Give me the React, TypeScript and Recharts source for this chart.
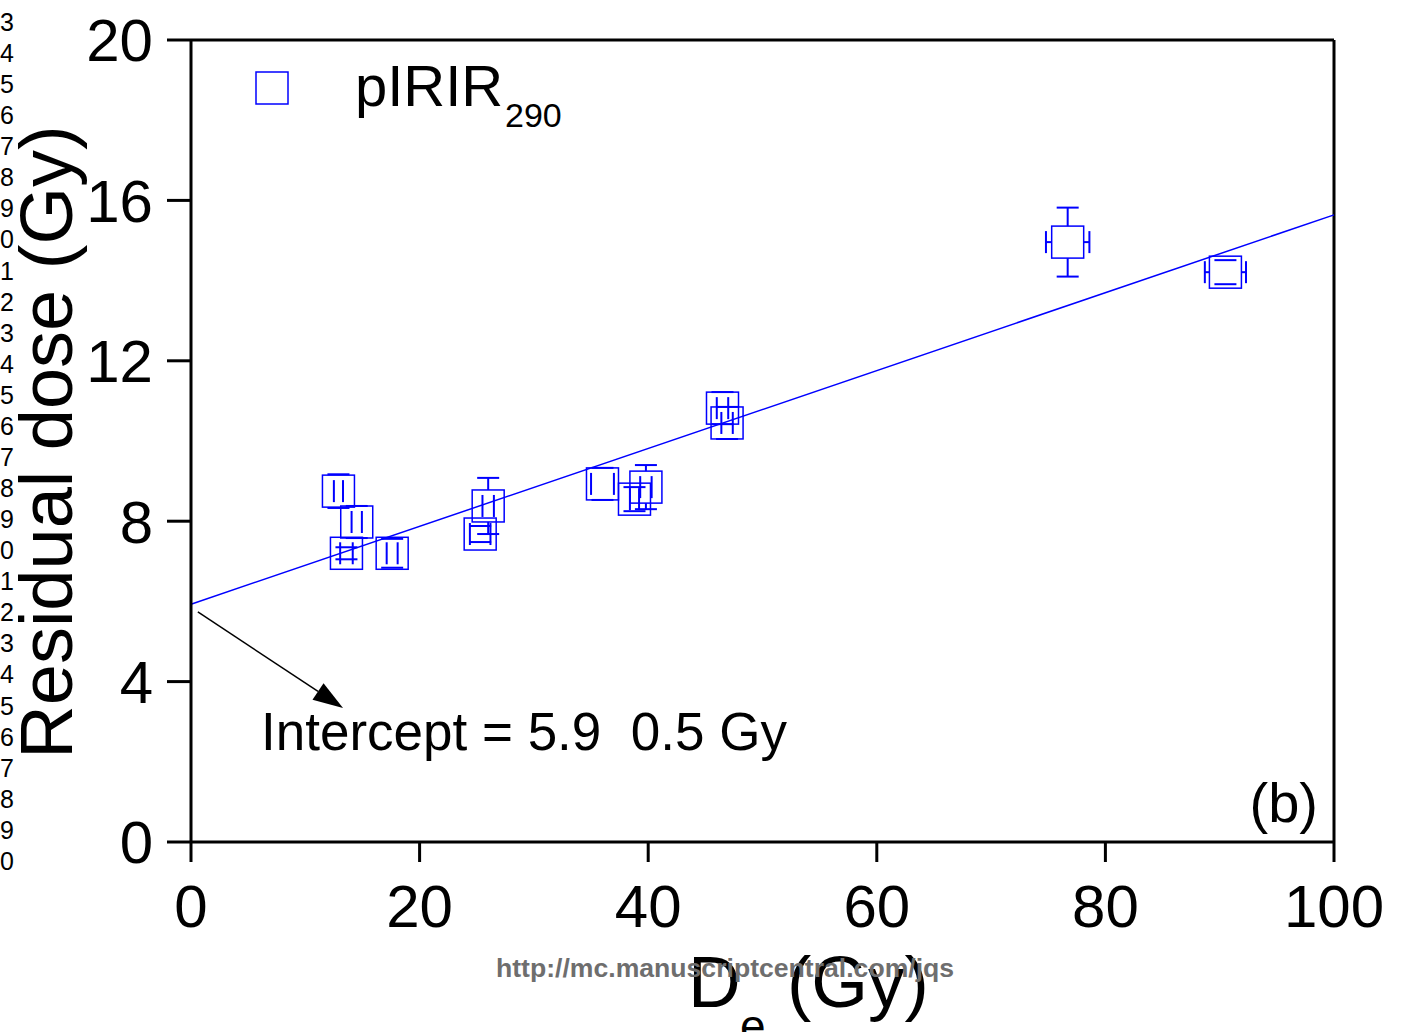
import { ScatterChart, Scatter, XAxis, YAxis, ReferenceLine } from 'recharts'

// equivalent dose De (Gy) and residual dose (Gy) for each sample
const deValues = [12.9, 14.5, 13.6, 17.6, 26.0, 25.3, 36.0, 38.8, 39.8, 46.5, 46.9, 76.7, 90.5]
const residualValues = [8.75, 7.98, 7.2, 7.2, 8.38, 7.68, 8.93, 8.55, 8.85, 10.82, 10.45, 14.96, 14.21]
const deErrors = [0.4, 0.45, 0.55, 0.48, 0.5, 0.9, 1.0, 0.4, 0.5, 0.5, 0.5, 1.9, 1.8]
const residualErrors = [0.42, 0.4, 0.15, 0.36, 0.7, 0.2, 0.4, 0.3, 0.55, 0.4, 0.4, 0.86, 0.3]

// linear fit end points
const fitX = [0, 100]
const fitY = [5.93, 15.64]

const xTicks = [0, 20, 40, 60, 80, 100]
const yTicks = [0, 4, 8, 12, 16, 20]

// manuscript line numbers down the left margin
const lineNumbers = ['3', '4', '5', '6', '7', '8', '9', '0', '1', '2', '3', '4', '5', '6', '7', '8', '9', '0', '1', '2', '3', '4', '5', '6', '7', '8', '9', '0']

const points = deValues.map((x, i) => ({ x, y: residualValues[i] }))

// each error bar split in four halves, drawn from the marker edge outwards (like Origin does)
const errorHalves = deValues.flatMap((x, i) => {
  const y = residualValues[i]
  const dx = deErrors[i]
  const dy = residualErrors[i]
  return [
    { key: `u${i}`, from: { x, y }, to: { x, y: y + dy } },
    { key: `d${i}`, from: { x, y }, to: { x, y: y - dy } },
    { key: `l${i}`, from: { x, y }, to: { x: x - dx, y } },
    { key: `r${i}`, from: { x, y }, to: { x: x + dx, y } },
  ]
})

const BLUE = '#0000ff'
const FONT = '"Liberation Sans", Arial, sans-serif'
const HALF_BOX = 16
const HALF_CAP = 11

const SquareMarker = (props: any) => {
  const { cx, cy } = props
  return <rect x={cx - HALF_BOX} y={cy - HALF_BOX} width={HALF_BOX * 2} height={HALF_BOX * 2} fill="none" stroke={BLUE} strokeWidth={1.5} />
}

const ErrorHalf = (props: any) => {
  const { x1, y1, x2, y2 } = props
  const dx = x2 - x1
  const dy = y2 - y1
  const len = Math.sqrt(dx * dx + dy * dy)
  if (!len) return <g />
  const ux = dx / len
  const uy = dy / len
  const px = -uy * HALF_CAP
  const py = ux * HALF_CAP
  return (
    <g stroke={BLUE} strokeWidth={2}>
      {len > HALF_BOX && <line x1={x1 + ux * HALF_BOX} y1={y1 + uy * HALF_BOX} x2={x2} y2={y2} />}
      <line x1={x2 + px} y1={y2 + py} x2={x2 - px} y2={y2 - py} />
    </g>
  )
}

const Arrow = (props: any) => {
  const { x1, y1, x2, y2 } = props
  const dx = x2 - x1
  const dy = y2 - y1
  const len = Math.sqrt(dx * dx + dy * dy)
  const ux = dx / len
  const uy = dy / len
  const bx = x2 - ux * 30
  const by = y2 - uy * 30
  const px = -uy * 10
  const py = ux * 10
  return (
    <g>
      <line x1={x1} y1={y1} x2={bx} y2={by} stroke="#000" strokeWidth={1.5} />
      <polygon points={`${x2},${y2} ${bx + px},${by + py} ${bx - px},${by - py}`} fill="#000" />
    </g>
  )
}

export default function App() {
  return (
    <div style={{ position: 'absolute', left: 0, top: 0, width: 1404, height: 1032, fontFamily: FONT, background: '#fff' }}>
      <ScatterChart width={1404} height={1032} margin={{ top: 40, right: 70, left: 0, bottom: 0 }}>
        <XAxis
          type="number"
          dataKey="x"
          domain={[0, 100]}
          ticks={xTicks}
          height={190}
          tickSize={20}
          tickMargin={22}
          axisLine={{ stroke: '#000', strokeWidth: 3 }}
          tickLine={{ stroke: '#000', strokeWidth: 3 }}
          tick={{ fontSize: 60, fill: '#000', fontFamily: FONT }}
        />
        <YAxis
          type="number"
          dataKey="y"
          domain={[0, 20]}
          ticks={yTicks}
          width={191}
          tickSize={24}
          tickMargin={14}
          axisLine={{ stroke: '#000', strokeWidth: 3 }}
          tickLine={{ stroke: '#000', strokeWidth: 3 }}
          tick={{ fontSize: 60, fill: '#000', fontFamily: FONT }}
        />
        <ReferenceLine y={20} stroke="#000" strokeWidth={3} />
        <ReferenceLine x={100} stroke="#000" strokeWidth={3} />
        <ReferenceLine
          segment={[{ x: fitX[0], y: fitY[0] }, { x: fitX[1], y: fitY[1] }]}
          stroke={BLUE}
          strokeWidth={1.5}
        />
        <ReferenceLine
          segment={[{ x: 0.6, y: 5.74 }, { x: 13.3, y: 3.34 }]}
          shape={Arrow}
        />
        {errorHalves.map(h => (
          <ReferenceLine key={h.key} segment={[h.from, h.to]} shape={ErrorHalf} />
        ))}
        <Scatter data={points} shape={SquareMarker} isAnimationActive={false} />
      </ScatterChart>
      <svg
        width={1404}
        height={1032}
        style={{ position: 'absolute', left: 0, top: 0, pointerEvents: 'none', fontFamily: FONT }}
      >
        {lineNumbers.map((n, i) => (
          <text key={i} x={0} y={31 + i * 31.07} fontSize={25} fill="#000">{n}</text>
        ))}
        <text x={72} y={442} fontSize={74} textAnchor="middle" transform="rotate(-90 72 442)" fill="#000">
          Residual dose (Gy)
        </text>
        <text y={1007} fontSize={73} fill="#000">
          <tspan x={688}>D</tspan>
          <tspan x={740} y={1042} fontSize={46}>e</tspan>
          <tspan x={787} y={1007}>(Gy)</tspan>
        </text>
        <text x={496} y={977} fontSize={26.6} fontWeight="bold" fill="#6e6e6e">
          http://mc.manuscriptcentral.com/jqs
        </text>
        <rect x={256} y={72} width={32} height={32} fill="none" stroke={BLUE} strokeWidth={1.5} />
        <text x={355} y={106} fontSize={58} fill="#000">pIRIR</text>
        <text x={505} y={127} fontSize={34} fill="#000">290</text>
        <text x={261} y={750} fontSize={53} fill="#000" style={{ whiteSpace: 'pre' }}>
          {'Intercept = 5.9  0.5 Gy'}
        </text>
        <text x={1318} y={822} fontSize={56} textAnchor="end" fill="#000">(b)</text>
      </svg>
    </div>
  )
}
